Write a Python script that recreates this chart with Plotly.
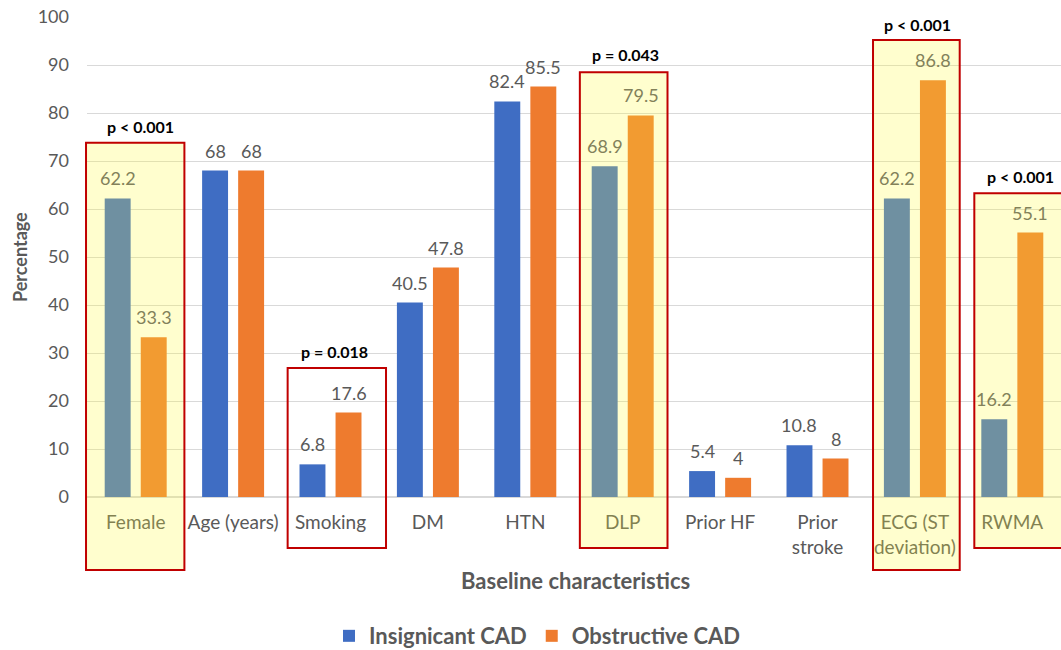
import plotly.graph_objects as go

categories = ["Female", "Age (years)", "Smoking", "DM", "HTN", "DLP", "Prior HF",
              "Prior<br>stroke", "ECG (ST<br>deviation)", "RWMA"]
insignificant = [62.2, 68, 6.8, 40.5, 82.4, 68.9, 5.4, 10.8, 62.2, 16.2]
obstructive = [33.3, 68, 17.6, 47.8, 85.5, 79.5, 4, 8, 86.8, 55.1]
y_ticks = [0, 10, 20, 30, 40, 50, 60, 70, 80, 90, 100]

# highlight boxes: (x0, x1 in category units, top, bottom in value units, yellow fill)
boxes = [(-0.51, 0.50, 73.8, -15.2, True),
         (1.56, 2.57, 26.9, -10.6, False),
         (4.56, 5.46, 88.5, -10.6, True),
         (7.57, 8.46, 95.2, -15.2, True),
         (8.61, 9.62, 63.3, -10.6, True)]
# p-value labels: (text, x, y)
p_labels = [("p < 0.001", 0.05, 77.1),
            ("p = 0.018", 2.04, 30.4),
            ("p = 0.043", 5.03, 92.1),
            ("p < 0.001", 8.03, 98.5),
            ("p < 0.001", 9.08, 66.7)]

FONT = "Lato"
GREY = "#595959"
OLIVE = "#82815A"   # grey text seen through the yellow overlay
BARGAP, GROUPGAP = 0.26, 0.28
n = len(categories)
xs = list(range(n))

fig = go.Figure()
fig.add_trace(go.Bar(x=xs, y=insignificant, name="<b>Insignicant CAD</b>",
                     marker=dict(color="#3F6DC3", line=dict(width=0))))
fig.add_trace(go.Bar(x=xs, y=obstructive, name="<b>Obstructive CAD</b>",
                     marker=dict(color="#EE7B2E", line=dict(width=0))))

filled = set()
for x0, x1, top, bot, fill in boxes:
    if fill:
        for i in xs:
            if x0 < i < x1:
                filled.add(i)

shapes = []
for x0, x1, top, bot, fill in boxes:
    shapes.append(dict(type="rect", xref="paper", yref="paper",
                       x0=(x0 + 0.5) / n, x1=(x1 + 0.5) / n,
                       y0=bot / 100, y1=top / 100,
                       fillcolor="rgba(255,250,60,0.25)" if fill else "rgba(0,0,0,0)",
                       line=dict(color="#C00000", width=2), layer="above"))

annotations = []
off = (1 - BARGAP) / 4
for series, sign in ((insignificant, -1), (obstructive, 1)):
    for i, v in enumerate(series):
        annotations.append(dict(text=f"{v:g}", x=i + sign * off, y=v, xref="x", yref="y",
                                yanchor="middle", yshift=20, showarrow=False,
                                font=dict(size=18, family=FONT,
                                          color=OLIVE if i in filled else GREY)))
for t, x, y in p_labels:
    annotations.append(dict(text=f"<b>{t}</b>", x=x, y=y, xref="x", yref="y",
                            yanchor="middle", showarrow=False,
                            font=dict(size=16, color="black", family=FONT)))
annotations.append(dict(text="<b>Baseline characteristics</b>", x=0.502, y=-0.173,
                        xref="paper", yref="paper", showarrow=False,
                        xanchor="center", yanchor="middle",
                        font=dict(size=22, color=GREY, family=FONT)))
annotations.append(dict(text="<b>Percentage</b>", x=-0.0688, y=0.5, textangle=-90,
                        xref="paper", yref="paper", showarrow=False,
                        xanchor="center", yanchor="middle",
                        font=dict(size=18, color=GREY, family=FONT)))

fig.update_layout(
    width=1061, height=650,
    margin=dict(l=87, r=0, t=17, b=153, autoexpand=False),
    paper_bgcolor="white", plot_bgcolor="white",
    barmode="group", bargap=BARGAP, bargroupgap=GROUPGAP,
    font=dict(family=FONT, color=GREY),
    shapes=shapes, annotations=annotations,
    showlegend=True,
    legend=dict(orientation="h", x=0.462, xref="paper", y=0.0215, yref="container",
                xanchor="center", yanchor="middle",
                font=dict(size=22, color=GREY, family=FONT), itemwidth=30,
                traceorder="normal"),
    xaxis=dict(tickmode="array", tickvals=xs, ticktext=categories, range=[-0.5, n - 0.5],
               showgrid=False, showline=False, ticks="", zeroline=False, automargin=False,
               ticklabelstandoff=12,
               tickfont=dict(size=19, color=GREY, family=FONT)),
    yaxis=dict(range=[0, 100], tickvals=y_ticks, showgrid=True, gridcolor="#D9D9D9",
               gridwidth=1, zeroline=True, zerolinecolor="#D9D9D9", showline=False,
               automargin=False, ticklabelstandoff=17, ticklabeloverflow="allow",
               tickfont=dict(size=18, color=GREY, family=FONT), ticks=""),
)

fig.write_html("out.html", config={"displayModeBar": False},
               post_script="document.body.style.margin='0px';"
                           "document.body.style.overflow='hidden';")
